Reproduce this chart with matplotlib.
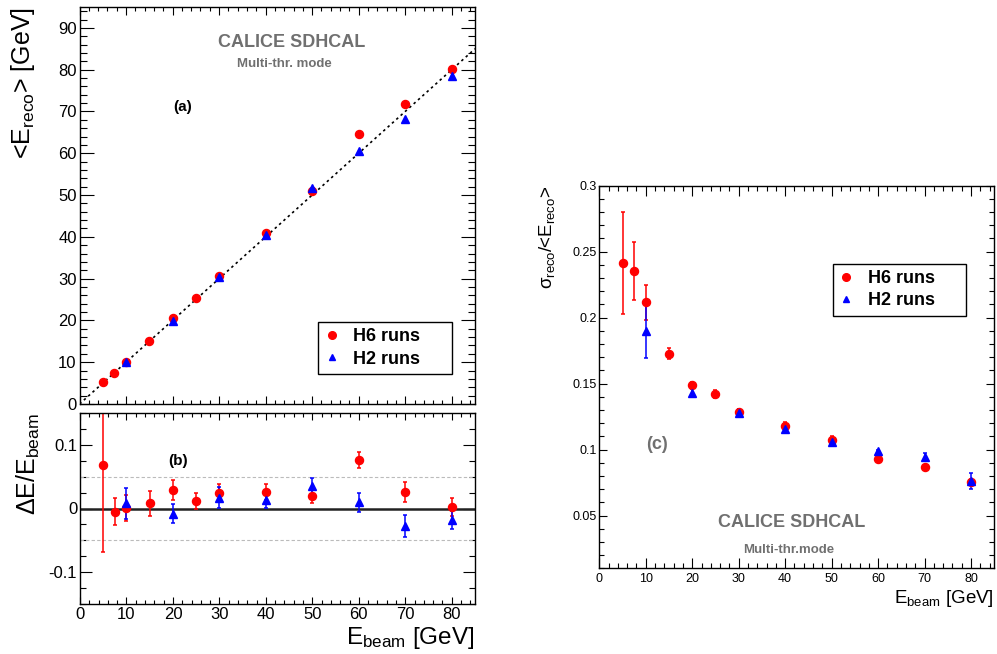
import matplotlib
matplotlib.use("Agg")
import matplotlib.pyplot as plt
from matplotlib.ticker import MultipleLocator, FixedLocator, FuncFormatter
from matplotlib.lines import Line2D

plt.rcParams['font.family'] = ['Liberation Sans', 'DejaVu Sans']
plt.rcParams['mathtext.fontset'] = 'custom'
plt.rcParams['mathtext.rm'] = 'Liberation Sans'
plt.rcParams['mathtext.it'] = 'Liberation Sans:italic'
plt.rcParams['mathtext.bf'] = 'Liberation Sans:bold'

# ---------------- data ----------------
e_h6 = [5, 7.5, 10, 15, 20, 25, 30, 40, 50, 60, 70, 80]
e_h2 = [10, 20, 30, 40, 50, 60, 70, 80]

# (a) mean reconstructed energy [GeV]
ereco_h6 = [5.3, 7.4, 10.0, 15.1, 20.6, 25.3, 30.7, 41.0, 51.0, 64.6, 71.8, 80.2]
ereco_h2 = [10.1, 19.8, 30.5, 40.5, 51.7, 60.6, 68.1, 78.6]

# (b) relative deviation (E_reco - E_beam)/E_beam
dev_h6 = [0.068, -0.005, 0.001, 0.008, 0.029, 0.012, 0.024, 0.026, 0.020, 0.076, 0.026, 0.002]
dev_h6_err = [0.136, 0.021, 0.020, 0.019, 0.015, 0.012, 0.014, 0.012, 0.012, 0.013, 0.016, 0.014]
dev_h2 = [0.008, -0.008, 0.017, 0.014, 0.035, 0.010, -0.027, -0.018]
dev_h2_err = [0.024, 0.015, 0.016, 0.013, 0.013, 0.015, 0.017, 0.014]

# (c) resolution sigma/<E_reco>
res_h6 = [0.2414, 0.2356, 0.2116, 0.1727, 0.1490, 0.1422, 0.1288, 0.1179, 0.1076, 0.0929, 0.0871, 0.0755]
res_h6_err = [0.039, 0.022, 0.0135, 0.0043, 0.002, 0.003, 0.002, 0.003, 0.003, 0.001, 0.001, 0.002]
res_h2 = [0.1902, 0.1427, 0.1278, 0.1157, 0.1056, 0.0990, 0.0942, 0.0760]
res_h2_err = [0.021, 0.003, 0.003, 0.002, 0.003, 0.001, 0.003, 0.006]

labels = ['H6 runs', 'H2 runs']
RED = '#ff0000'
BLUE = '#0000ff'
GRAY = '#707070'

W, H = 997, 654
fig = plt.figure(figsize=(W / 100, H / 100), dpi=100)


def px_axes(l, t, r, b):
    return fig.add_axes([l / W, 1 - b / H, (r - l) / W, (b - t) / H])


def style(ax, xmaj, xmin_, ymaj, ymin_, lab, pad_x, pad_y):
    for s in ax.spines.values():
        s.set_linewidth(1.0)
    ax.tick_params(which='both', direction='in', top=True, right=True, width=0.8,
                   labelsize=lab)
    ax.tick_params(axis='x', which='major', length=xmaj, pad=pad_x)
    ax.tick_params(axis='x', which='minor', length=xmin_)
    ax.tick_params(axis='y', which='major', length=ymaj, pad=pad_y)
    ax.tick_params(axis='y', which='minor', length=ymin_)


fmt = FuncFormatter(lambda v, p: ('%g' % round(v, 6)))

# ---------------- panel (a) ----------------
axa = px_axes(79.5, 7, 475, 404)
axa.set_xlim(0, 85)
axa.set_ylim(0, 95)
axa.plot([0, 85], [0, 85], color='black', linestyle=(0, (1.5, 2)), linewidth=1.2)
axa.plot(e_h6, ereco_h6, 'o', color=RED, markersize=5.8, linestyle='none')
axa.plot(e_h2, ereco_h2, '^', color=BLUE, markersize=6, linestyle='none')
axa.xaxis.set_major_locator(MultipleLocator(10))
axa.xaxis.set_minor_locator(MultipleLocator(2))
axa.yaxis.set_major_locator(MultipleLocator(10))
axa.yaxis.set_minor_locator(MultipleLocator(2))
axa.yaxis.set_major_formatter(fmt)
axa.tick_params(axis='x', labelbottom=False)
style(axa, 5.8, 2.9, 10, 5, 12, 3, 2)
axa.text(-0.108, 1.0, '<E$_{\\mathrm{reco}}$> [GeV]', transform=axa.transAxes,
         rotation=90, ha='right', va='top', fontsize=18)
axa.text(45.6, 86.4, 'CALICE SDHCAL', color=GRAY, fontsize=13, fontweight='bold',
         ha='center', va='center')
axa.text(44.1, 81.4, 'Multi-thr. mode', color=GRAY, fontsize=9.5, fontweight='bold',
         ha='center', va='center')
axa.text(22.2, 71, '(a)', fontsize=11, fontweight='bold', ha='center', va='center')

handles = [Line2D([], [], marker='o', color=RED, linestyle='none', markersize=5.5),
           Line2D([], [], marker='^', color=BLUE, linestyle='none', markersize=5)]


def legend(ax, x0, y0, x1, y1):
    lg = ax.legend(handles, labels, loc='upper left', mode='expand',
                   bbox_to_anchor=(x0, y0, x1 - x0, y1 - y0), borderaxespad=0,
                   frameon=True, fancybox=False, edgecolor='black', framealpha=1,
                   prop={'weight': 'bold', 'size': 13}, handlelength=0.8,
                   handletextpad=0.8, borderpad=0.35, labelspacing=0.3)
    lg.get_frame().set_linewidth(1.0)
    return lg


legend(axa, 0.603, 0.0806, 0.942, 0.2065)

# ---------------- panel (b) ----------------
axb = px_axes(80, 413, 475, 604)
axb.set_xlim(0, 85)
axb.set_ylim(-0.15, 0.15)
axb.axhline(0.05, color='#bbbbbb', linestyle=(0, (3, 2)), linewidth=0.8)
axb.axhline(-0.05, color='#bbbbbb', linestyle=(0, (3, 2)), linewidth=0.8)
axb.axhline(0, color='#222222', linewidth=1.8)
axb.errorbar(e_h6, dev_h6, yerr=dev_h6_err, fmt='o', color=RED, markersize=5.8,
             elinewidth=1.1, capsize=1.5, capthick=1.1)
axb.errorbar(e_h2, dev_h2, yerr=dev_h2_err, fmt='^', color=BLUE, markersize=6,
             elinewidth=1.1, capsize=1.5, capthick=1.1)
axb.xaxis.set_major_locator(MultipleLocator(10))
axb.xaxis.set_minor_locator(MultipleLocator(2))
axb.yaxis.set_major_locator(FixedLocator([-0.1, 0, 0.1]))
axb.yaxis.set_minor_locator(MultipleLocator(0.025))
axb.xaxis.set_major_formatter(fmt)
axb.yaxis.set_major_formatter(fmt)
style(axb, 5, 2.9, 8.6, 4.3, 12, 2.5, 2)
axb.text(-0.096, 1.0, '\u0394E/E$_{\\mathrm{beam}}$', transform=axb.transAxes,
         rotation=90, ha='right', va='top', fontsize=18)
axb.text(1.0, -0.112, 'E$_{\\mathrm{beam}}$ [GeV]', transform=axb.transAxes,
         ha='right', va='top', fontsize=17.5)
axb.text(21, 0.075, '(b)', fontsize=11, fontweight='bold', ha='center', va='center')

# ---------------- panel (c) ----------------
axc = px_axes(599.3, 185.7, 994.3, 568.3)
axc.set_xlim(0, 85)
axc.set_ylim(0.01, 0.3)
axc.errorbar(e_h6, res_h6, yerr=res_h6_err, fmt='o', color=RED, markersize=5.8,
             elinewidth=1.1, capsize=1.5, capthick=1.1)
axc.errorbar(e_h2, res_h2, yerr=res_h2_err, fmt='^', color=BLUE, markersize=5.5,
             elinewidth=1.1, capsize=1.5, capthick=1.1)
axc.xaxis.set_major_locator(MultipleLocator(10))
axc.xaxis.set_minor_locator(MultipleLocator(2))
axc.yaxis.set_major_locator(FixedLocator([0.05, 0.1, 0.15, 0.2, 0.25, 0.3]))
axc.yaxis.set_minor_locator(MultipleLocator(0.01))
axc.xaxis.set_major_formatter(fmt)
axc.yaxis.set_major_formatter(fmt)
style(axc, 7.2, 3.6, 5.8, 3.6, 9, 3.5, 2)
axc.text(-0.107, 1.0, '\u03c3$_{\\mathrm{reco}}$/<E$_{\\mathrm{reco}}$>',
         transform=axc.transAxes, rotation=90, ha='right', va='top', fontsize=13.5)
axc.text(1.0, -0.0515, 'E$_{\\mathrm{beam}}$ [GeV]', transform=axc.transAxes,
         ha='right', va='top', fontsize=13.5)
axc.text(12.4, 0.104, '(c)', color=GRAY, fontsize=13, fontweight='bold',
         ha='center', va='center')
axc.text(41.4, 0.045, 'CALICE SDHCAL', color=GRAY, fontsize=13, fontweight='bold',
         ha='center', va='center')
axc.text(40.8, 0.024, 'Multi-thr.mode', color=GRAY, fontsize=9.5, fontweight='bold',
         ha='center', va='center')
legend(axc, 0.591, 0.659, 0.928, 0.796)

fig.savefig('out.png', dpi=100)
